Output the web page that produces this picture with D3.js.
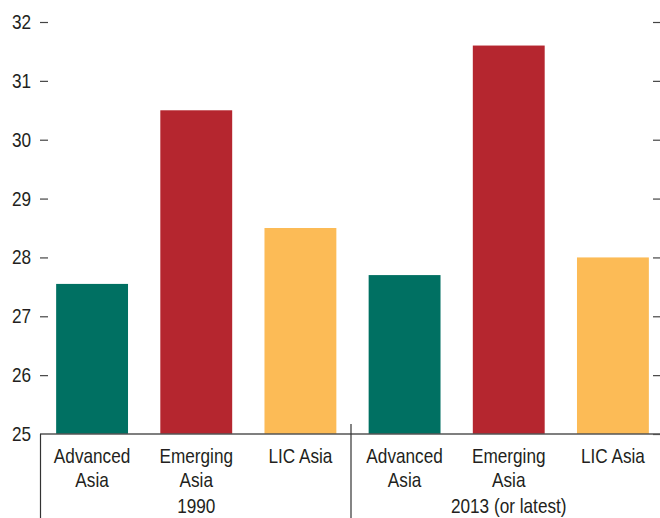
<!DOCTYPE html>
<html><head><meta charset="utf-8">
<script src="https://cdn.jsdelivr.net/npm/d3@7"></script>
<style>body{margin:0;background:#fff}svg{display:block}text{font-family:"Liberation Sans",Arial,sans-serif;fill:#231f20}</style>
</head><body><svg id="c" width="660" height="518"></svg>
<script>
const groups = ["1990", "2013 (or latest)"];
const regions = ["Advanced Asia", "Emerging Asia", "LIC Asia"];
const labelLines = [["Advanced", "Asia"], ["Emerging", "Asia"], ["LIC Asia"]];
const values1990 = [27.55, 30.5, 28.5];
const values2013 = [27.7, 31.6, 28.0];
const yTicks = [25, 26, 27, 28, 29, 30, 31, 32];
const colors = ["#007062", "#b5262f", "#fcbb56"];

const SX = 0.86; // horizontal condensing of text
const data = [];
[values1990, values2013].forEach((vals, gi) => vals.forEach((v, ri) => data.push({g: gi, r: ri, v, key: gi + "-" + ri})));

const svg = d3.select("#c");
const x = d3.scaleBand().domain(data.map(d => d.key)).range([40, 665]).paddingInner(0.31).paddingOuter(0.155);
const y = d3.scaleLinear().domain([25, 32]).range([434, 22]);

svg.selectAll("rect.bar").data(data).join("rect").attr("class", "bar")
  .attr("x", d => x(d.key)).attr("width", x.bandwidth())
  .attr("y", d => y(d.v)).attr("height", d => y(25) - y(d.v))
  .attr("fill", d => colors[d.r]);

function ctext(px, py, anchor, str) {
  return svg.append("text").attr("transform", `translate(${px},${py}) scale(${SX},1)`)
    .attr("text-anchor", anchor).style("font-size", "20px").text(str);
}

// left axis ticks
const yl = svg.append("g").attr("transform", "translate(48,0)")
  .call(d3.axisLeft(y).tickValues(yTicks).tickSize(8).tickFormat(""));
yl.select(".domain").remove();
yl.selectAll(".tick line").attr("stroke", "#444").attr("stroke-width", 1.2);
yl.select(".tick:first-of-type line").remove();
yTicks.forEach(t => ctext(31, y(t) + 7, "end", d3.format("d")(t)));

// right ticks
const yr = svg.append("g").attr("transform", "translate(653,0)")
  .call(d3.axisRight(y).tickValues(yTicks).tickSize(7).tickFormat(""));
yr.select(".domain").remove();
yr.selectAll(".tick line").attr("stroke", "#444").attr("stroke-width", 1.2);

// baseline
svg.append("line").attr("x1", 40).attr("x2", 660).attr("y1", y(25)).attr("y2", y(25))
  .attr("stroke", "#555").attr("stroke-width", 1.5);

// group separators
const step = x.step();
const sepX = [40.5, 40 + 3 * step - 1.5];
svg.selectAll("line.sep").data(sepX).join("line").attr("class", "sep")
  .attr("x1", d => d).attr("x2", d => d).attr("y1", (d, i) => i === 0 ? y(25) : 424).attr("y2", 518)
  .attr("stroke", "#333").attr("stroke-width", 1.2);

// category labels
data.forEach(d => {
  const cx = x(d.key) + x.bandwidth() / 2;
  labelLines[d.r].forEach((ln, i) => ctext(cx, 463 + i * 24, "middle", ln));
});

// group labels
groups.forEach((g, gi) => {
  ctext(x(gi + "-1") + x.bandwidth() / 2, 513, "middle", g);
});
</script></body></html>
